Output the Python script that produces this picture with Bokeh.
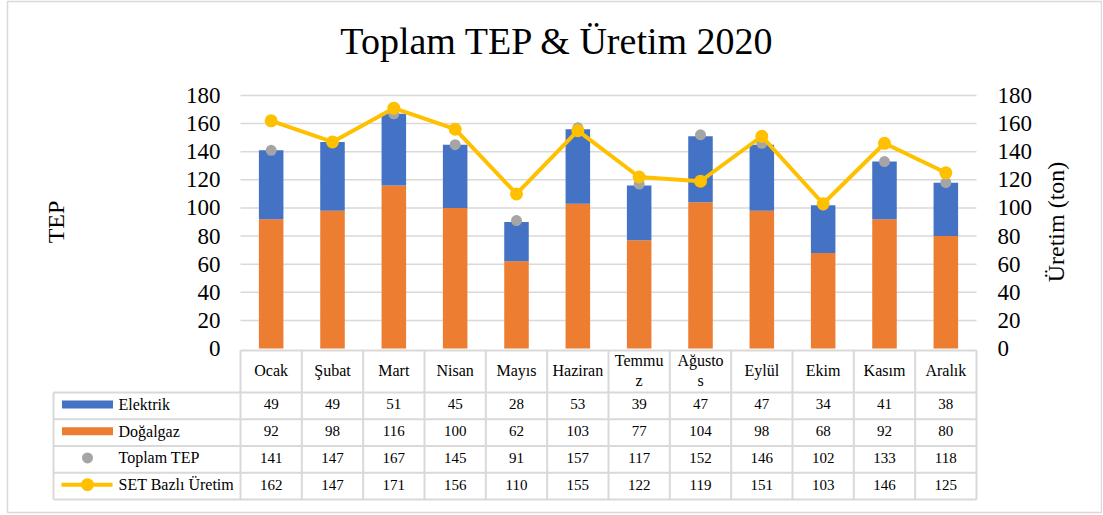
import math
from bokeh.plotting import figure
from bokeh.models import Range1d, LinearAxis, FixedTicker, ColumnDataSource
from bokeh.core.properties import value
from bokeh.embed import file_html
from bokeh.resources import INLINE

# ---------------- data ----------------
months = ["Ocak", "Şubat", "Mart", "Nisan", "Mayıs", "Haziran", "Temmuz",
          "Ağustos", "Eylül", "Ekim", "Kasım", "Aralık"]
month_labels = ["Ocak", "Şubat", "Mart", "Nisan", "Mayıs", "Haziran", "Temmu\nz",
                "Ağusto\ns", "Eylül", "Ekim", "Kasım", "Aralık"]
elektrik = [49, 49, 51, 45, 28, 53, 39, 47, 47, 34, 41, 38]
dogalgaz = [92, 98, 116, 100, 62, 103, 77, 104, 98, 68, 92, 80]
toplam_tep = [141, 147, 167, 145, 91, 157, 117, 152, 146, 102, 133, 118]
set_uretim = [162, 147, 171, 156, 110, 155, 122, 119, 151, 103, 146, 125]
series_names = ["Elektrik", "Doğalgaz", "Toplam TEP", "SET Bazlı Üretim"]
y_ticks = [0, 20, 40, 60, 80, 100, 120, 140, 160, 180]

title_text = "Toplam TEP & Üretim 2020"
left_label = "TEP"
right_label = "Üretim (ton)"

# ---------------- styles ----------------
C_ELEK = "#4472C4"
C_GAZ = "#ED7D31"
C_TOP = "#A5A5A5"
C_SET = "#FFC000"
C_GRID = "#D9D9D9"
FONT = value("Liberation Serif")

# ---------------- geometry (page pixels -> data) ----------------
W, H = 1102, 514
FR_L, FR_R, FR_T, FR_B = 7, 1101, 1, 512      # frame edges (page px) = outer border
TBL_L, TBL_B = 53, 499                          # data table left / bottom edges
COL0, COLN = 240, 976                           # month columns
Y0_PX, Y180_PX = 348, 95
cw = (COLN - COL0) / 12.0
u = (Y0_PX - Y180_PX) / 180.0


def X(px):
    return (px - COL0) / cw


def Y(py):
    return (Y0_PX - py) / u


x_range = Range1d(X(FR_L), X(FR_R))
y_range = Range1d(Y(FR_B), Y(FR_T))

p = figure(width=W, height=H, x_range=x_range, y_range=y_range,
           x_axis_type=None, y_axis_type=None,
           output_backend="svg", toolbar_location=None,
           min_border_left=FR_L, min_border_right=W - FR_R,
           min_border_top=FR_T, min_border_bottom=H - FR_B)
p.outline_line_color = C_GRID
p.outline_line_width = 1.5
p.background_fill_color = "white"
p.border_fill_color = "white"

p.extra_y_ranges = {"uretim": Range1d(Y(FR_B), Y(FR_T))}

# title (centred over the chart)
p.text(x=[X(557)], y=[Y(40)], text=[title_text], text_font=FONT,
       text_font_size="38px", text_align="center", text_baseline="middle",
       text_color="black")

# gridlines
gl = [t for t in y_ticks if t > 0]
p.segment(x0=[0] * len(gl), x1=[12] * len(gl), y0=gl, y1=gl,
          line_color=C_GRID, line_width=1.5)

# stacked bars
xs = [i + 0.5 for i in range(len(months))]
src = ColumnDataSource(dict(x=xs, dogalgaz=dogalgaz, elektrik=elektrik))
p.vbar_stack(["dogalgaz", "elektrik"], x="x", width=0.4, source=src,
             color=[C_GAZ, C_ELEK], line_color=None)

# total points
p.scatter(xs, toplam_tep, size=11, color=C_TOP, line_color=None)

# production line
p.line(xs, set_uretim, y_range_name="uretim", line_color=C_SET, line_width=4)
p.scatter(xs, set_uretim, y_range_name="uretim", size=13, color=C_SET,
          line_color=None)

# axes (drawn at the chart edges, inside the bordered area)
lax = LinearAxis(fixed_location=0, bounds=(0, 180),
                 ticker=FixedTicker(ticks=y_ticks), axis_label=left_label)
rax = LinearAxis(y_range_name="uretim", fixed_location=12, bounds=(0, 180),
                 ticker=FixedTicker(ticks=y_ticks))
for ax in (lax, rax):
    ax.axis_line_color = None
    ax.major_tick_line_color = None
    ax.minor_tick_line_color = None
    ax.major_tick_in = 0
    ax.major_tick_out = 0
    ax.minor_tick_in = 0
    ax.minor_tick_out = 0
    ax.major_label_text_font = "Liberation Serif"
    ax.major_label_text_font_size = "23px"
    ax.major_label_text_color = "black"
    ax.axis_label_text_font = "Liberation Serif"
    ax.axis_label_text_font_size = "24px"
    ax.axis_label_text_font_style = "normal"
    ax.axis_label_text_color = "black"
lax.major_label_standoff = 20
lax.axis_label_standoff = 114
rax.major_label_standoff = 21
p.add_layout(lax, "left")
p.add_layout(rax, "right")

# right axis title, reading bottom-to-top like the left one
p.text(x=[X(1055)], y=[90], y_range_name="uretim", text=[right_label],
       angle=math.pi / 2, text_font=FONT, text_font_size="24px",
       text_align="center", text_baseline="middle", text_color="black")

# ---------------- data table ----------------
HDR_T, HDR_B = 350, 392
row_h = (TBL_B - HDR_B) / 4.0
row_edges = [HDR_B + k * row_h for k in range(5)]
row_centers = [HDR_B + (k + 0.5) * row_h - 1.5 for k in range(4)]

# horizontal lines
p.segment(x0=[0], x1=[12], y0=[Y(HDR_T)], y1=[Y(HDR_T)],
          line_color=C_GRID, line_width=2)
p.segment(x0=[X(TBL_L)] * 5, x1=[12] * 5, y0=[Y(e) for e in row_edges],
          y1=[Y(e) for e in row_edges], line_color=C_GRID, line_width=2)
# vertical lines
p.segment(x0=list(range(13)), x1=list(range(13)), y0=[Y(HDR_T)] * 13,
          y1=[Y(TBL_B)] * 13, line_color=C_GRID, line_width=2)
p.segment(x0=[X(TBL_L)], x1=[X(TBL_L)], y0=[Y(HDR_B)],
          y1=[Y(TBL_B)], line_color=C_GRID, line_width=2)

# header text
p.text(x=xs, y=[Y(370)] * 12, text=month_labels, text_font=FONT,
       text_font_size="16px", text_align="center", text_baseline="middle",
       text_color="black", text_line_height=1.15)

# value rows
rows = [elektrik, dogalgaz, toplam_tep, set_uretim]
for vals, cy in zip(rows, row_centers):
    p.text(x=xs, y=[Y(cy)] * 12, text=[str(v) for v in vals], text_font=FONT,
           text_font_size="15px", text_align="center", text_baseline="middle",
           text_color="black")

# legend column
sw_c = X(87)
p.rect(x=[sw_c], y=[Y(row_centers[0])], width=51, height=8,
       width_units="screen", height_units="screen", color=C_ELEK, line_color=None)
p.rect(x=[sw_c], y=[Y(row_centers[1])], width=51, height=8,
       width_units="screen", height_units="screen", color=C_GAZ, line_color=None)
p.scatter([sw_c], [Y(row_centers[2])], size=11, color=C_TOP, line_color=None)
p.segment(x0=[X(61)], x1=[X(112)], y0=[Y(row_centers[3])], y1=[Y(row_centers[3])],
          line_color=C_SET, line_width=4)
p.scatter([sw_c], [Y(row_centers[3])], size=13, color=C_SET, line_color=None)
p.text(x=[X(118)] * 4, y=[Y(c) for c in row_centers], text=series_names,
       text_font=FONT, text_font_size="16px", text_align="left",
       text_baseline="middle", text_color="black")

open("out.html", "w").write(file_html(p, INLINE))
